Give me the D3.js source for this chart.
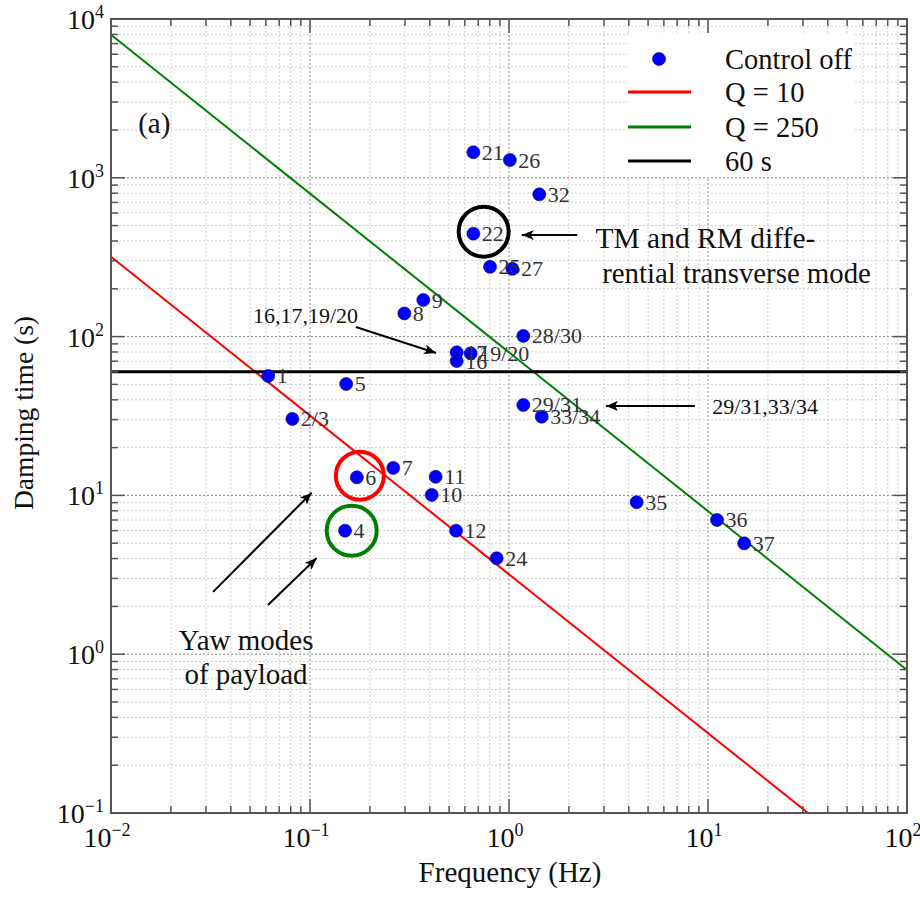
<!DOCTYPE html>
<html>
<head>
<meta charset="utf-8">
<script src="https://cdn.jsdelivr.net/npm/d3@7"></script>
<style>
  body { margin: 0; background: #fff; }
</style>
</head>
<body>
<svg></svg>
<script>
const width = 920;
const height = 897;

// mode data (control off)
const modeLabels = ["21", "26", "32", "22", "25", "27", "9", "8", "28/30", "17", "16", "19/20",
  "1", "5", "2/3", "29/31", "33/34", "6", "7", "11", "10", "4", "12", "24", "35", "36", "37"];
const modeFreq = [0.662, 1.01, 1.42, 0.662, 0.803, 1.04, 0.371, 0.298, 1.18, 0.546, 0.546, 0.642,
  0.0617, 0.152, 0.0815, 1.18, 1.46, 0.172, 0.262, 0.428, 0.409, 0.150, 0.542, 0.867, 4.38, 11.1, 15.2];
const modeTau = [1448, 1294, 787, 445, 275, 267, 170, 140, 101, 79.6, 70.2, 78.5,
  56.5, 50.3, 30.3, 37.1, 31.3, 13.0, 14.9, 13.1, 10.07, 6.0, 6.0, 4.02, 9.06, 7.0, 4.99];

// reference lines
const qValues = [10, 250];
const qColors = ["#ff0000", "#008000"];
const limitTau = 60;

const xDomain = [1e-2, 1e2];
const yDomain = [1e-1, 1e4];

const serif = "'Liberation Serif', 'DejaVu Serif', 'Times New Roman', Times, serif";

const svg = d3.select("svg").attr("width", width).attr("height", height)
	.attr("font-family", serif)
	.style("font-family", serif);

const x = d3.scaleLog().domain(xDomain).range([111, 907]);
const y = d3.scaleLog().domain(yDomain).range([813, 19]);

const plot = svg.append("g");

// grid
function logTicks(domain) {
	let out = [];
	for (let e = Math.log10(domain[0]); e < Math.log10(domain[1]); e++) {
		for (let k = 1; k <= 9; k++) out.push({v: k * Math.pow(10, e), major: k === 1});
	}
	out.push({v: domain[1], major: true});
	return out;
}
const xt = logTicks(xDomain);
const yt = logTicks(yDomain);

plot.selectAll(".gx").data(xt).enter().append("line")
	.attr("x1", d => x(d.v)).attr("x2", d => x(d.v))
	.attr("y1", 19).attr("y2", 813)
	.style("stroke", d => d.major ? "#8a8a8a" : "#cfcfcf")
	.style("stroke-width", 1)
	.style("stroke-dasharray", "2,2");

plot.selectAll(".gy").data(yt).enter().append("line")
	.attr("y1", d => y(d.v)).attr("y2", d => y(d.v))
	.attr("x1", 111).attr("x2", 907)
	.style("stroke", d => d.major ? "#8a8a8a" : "#cfcfcf")
	.style("stroke-width", 1)
	.style("stroke-dasharray", "2,2");

// legend background covers grid
svg.append("rect")
	.attr("x", 628).attr("y", 33).attr("width", 226).attr("height", 144)
	.style("fill", "#fff");

// clip for lines
svg.append("clipPath").attr("id", "clip")
	.append("rect").attr("x", 111).attr("y", 19).attr("width", 796).attr("height", 794);

const lineGen = d3.line().x(d => x(d.f)).y(d => y(d.t));
qValues.forEach((q, i) => {
	let pts = xDomain.map(f => ({f: f, t: q / (Math.PI * f)}));
	plot.append("path")
		.attr("d", lineGen(pts))
		.attr("clip-path", "url(#clip)")
		.style("fill", "none")
		.style("stroke", qColors[i])
		.style("stroke-width", 2);
});

plot.append("line")
	.attr("x1", x(xDomain[0])).attr("x2", x(xDomain[1]))
	.attr("y1", y(limitTau)).attr("y2", y(limitTau))
	.style("stroke", "#000")
	.style("stroke-width", 3);

// highlight circles
const rings = [
	{f: 0.746, t: 458, r: 25, c: "#000"},
	{f: 0.178, t: 13.3, r: 24, c: "#ff0000"},
	{f: 0.162, t: 6.0, r: 25, c: "#008000"}
];
plot.selectAll(".ring").data(rings).enter().append("circle")
	.attr("cx", d => x(d.f)).attr("cy", d => y(d.t)).attr("r", d => d.r)
	.style("fill", "none")
	.style("stroke", d => d.c)
	.style("stroke-width", 4);

// points
const modes = modeLabels.map((l, i) => ({label: l, f: modeFreq[i], t: modeTau[i]}));
plot.selectAll(".pt").data(modes).enter().append("circle")
	.attr("cx", d => x(d.f)).attr("cy", d => y(d.t)).attr("r", 6.5)
	.style("fill", "#0000ff")
	.style("stroke", "#000060")
	.style("stroke-width", 0.6);

plot.selectAll(".lbl").data(modes).enter().append("text")
	.attr("x", d => x(d.f) + 8.5).attr("y", d => y(d.t) + 7.5)
	.style("font-size", "22px")
	.style("fill", "#333")
	.text(d => d.label);

// arrows
svg.append("defs").append("marker")
	.attr("id", "head")
	.attr("viewBox", "0 0 12 10")
	.attr("refX", 12).attr("refY", 5)
	.attr("markerWidth", 12).attr("markerHeight", 10)
	.attr("markerUnits", "userSpaceOnUse")
	.attr("orient", "auto")
	.append("path").attr("d", "M0,0 L12,5 L0,10 L3,5 Z").style("fill", "#000");

const arrows = [
	{f1: 2.2, t1: 436, f2: 1.16, t2: 436},
	{f1: 8.6, t1: 36.6, f2: 3.07, t2: 36.6},
	{f1: 0.170, t1: 115, f2: 0.430, t2: 78.9},
	{f1: 0.0326, t1: 2.47, f2: 0.102, t2: 10.4},
	{f1: 0.0615, t1: 2.04, f2: 0.108, t2: 4.03}
];
plot.selectAll(".arr").data(arrows).enter().append("line")
	.attr("x1", d => x(d.f1)).attr("y1", d => y(d.t1))
	.attr("x2", d => x(d.f2)).attr("y2", d => y(d.t2))
	.style("stroke", "#000")
	.style("stroke-width", 2)
	.attr("marker-end", "url(#head)");

// annotation texts
const notes = [
	{f: 0.0137, t: 1914, s: 29, a: "start", txt: "(a)"},
	{f: 2.72, t: 361, s: 29.5, a: "start", txt: "TM and RM diffe-"},
	{f: 2.94, t: 218, s: 28.8, a: "start", txt: "rential transverse mode"},
	{f: 10.5, t: 32.6, s: 22, a: "start", txt: "29/31,33/34"},
	{f: 0.0517, t: 122, s: 22, a: "start", txt: "16,17,19/20"},
	{f: 0.0477, t: 1.06, s: 29, a: "middle", txt: "Yaw modes"},
	{f: 0.0477, t: 0.649, s: 29, a: "middle", txt: "of payload"}
];
plot.selectAll(".note").data(notes).enter().append("text")
	.attr("x", d => x(d.f)).attr("y", d => y(d.t))
	.attr("text-anchor", d => d.a)
	.style("font-size", d => d.s + "px")
	.style("fill", "#111")
	.text(d => d.txt);

// frame and ticks
const axisColor = "#555";
svg.append("rect")
	.attr("x", 111).attr("y", 19).attr("width", 796).attr("height", 794)
	.style("fill", "none").style("stroke", axisColor).style("stroke-width", 2);

const tickLen = d => d.major ? 14 : 7;
[813, 19].forEach((yy, side) => {
	svg.selectAll(null).data(xt).enter().append("line")
		.attr("x1", d => x(d.v)).attr("x2", d => x(d.v))
		.attr("y1", yy).attr("y2", d => side === 0 ? yy - tickLen(d) : yy + tickLen(d))
		.style("stroke", axisColor).style("stroke-width", 1.5);
});
[111, 907].forEach((xx, side) => {
	svg.selectAll(null).data(yt).enter().append("line")
		.attr("y1", d => y(d.v)).attr("y2", d => y(d.v))
		.attr("x1", xx).attr("x2", d => side === 0 ? xx + tickLen(d) : xx - tickLen(d))
		.style("stroke", axisColor).style("stroke-width", 1.5);
});

// tick labels
const xMajor = xt.filter(d => d.major);
const yMajor = yt.filter(d => d.major);

function powLabel(sel, v) {
	let e = Math.round(Math.log10(v));
	sel.append("tspan").text("10");
	sel.append("tspan").attr("dy", -11).style("font-size", "18px")
		.text(e < 0 ? "\u2212" + (-e) : e);
}

xMajor.forEach(d => {
	let t = svg.append("text")
		.attr("x", x(d.v) - 4).attr("y", 847)
		.attr("text-anchor", "middle")
		.style("font-size", "28px")
		.style("fill", "#111");
	powLabel(t, d.v);
});
yMajor.forEach(d => {
	let t = svg.append("text")
		.attr("x", 104).attr("y", y(d.v) + 10)
		.attr("text-anchor", "end")
		.style("font-size", "28px")
		.style("fill", "#111");
	powLabel(t, d.v);
});

// axis titles
svg.append("text")
	.attr("x", 510).attr("y", 882)
	.attr("text-anchor", "middle")
	.style("font-size", "29px")
	.style("fill", "#111")
	.text("Frequency (Hz)");

svg.append("text")
	.attr("transform", "translate(33,413) rotate(-90)")
	.attr("text-anchor", "middle")
	.style("font-size", "27.5px")
	.style("fill", "#111")
	.text("Damping time (s)");

// legend
const legend = svg.append("g");
legend.append("circle").attr("cx", 659).attr("cy", 59).attr("r", 6.5)
	.style("fill", "#0000ff").style("stroke", "#000060").style("stroke-width", 0.6);
const legendLines = [
	{c: qColors[0], yy: 92, txt: "Q = " + qValues[0]},
	{c: qColors[1], yy: 127, txt: "Q = " + qValues[1]},
	{c: "#000", yy: 161, txt: limitTau + " s"}
];
legend.append("text").attr("x", 725).attr("y", 69).style("font-size", "28.5px")
	.style("fill", "#111").text("Control off");
legendLines.forEach(d => {
	legend.append("line").attr("x1", 628).attr("x2", 691).attr("y1", d.yy).attr("y2", d.yy)
		.style("stroke", d.c).style("stroke-width", 3);
	legend.append("text").attr("x", 725).attr("y", d.yy + 10).style("font-size", "28.5px")
		.style("fill", "#111").text(d.txt);
});
</script>
</body>
</html>
